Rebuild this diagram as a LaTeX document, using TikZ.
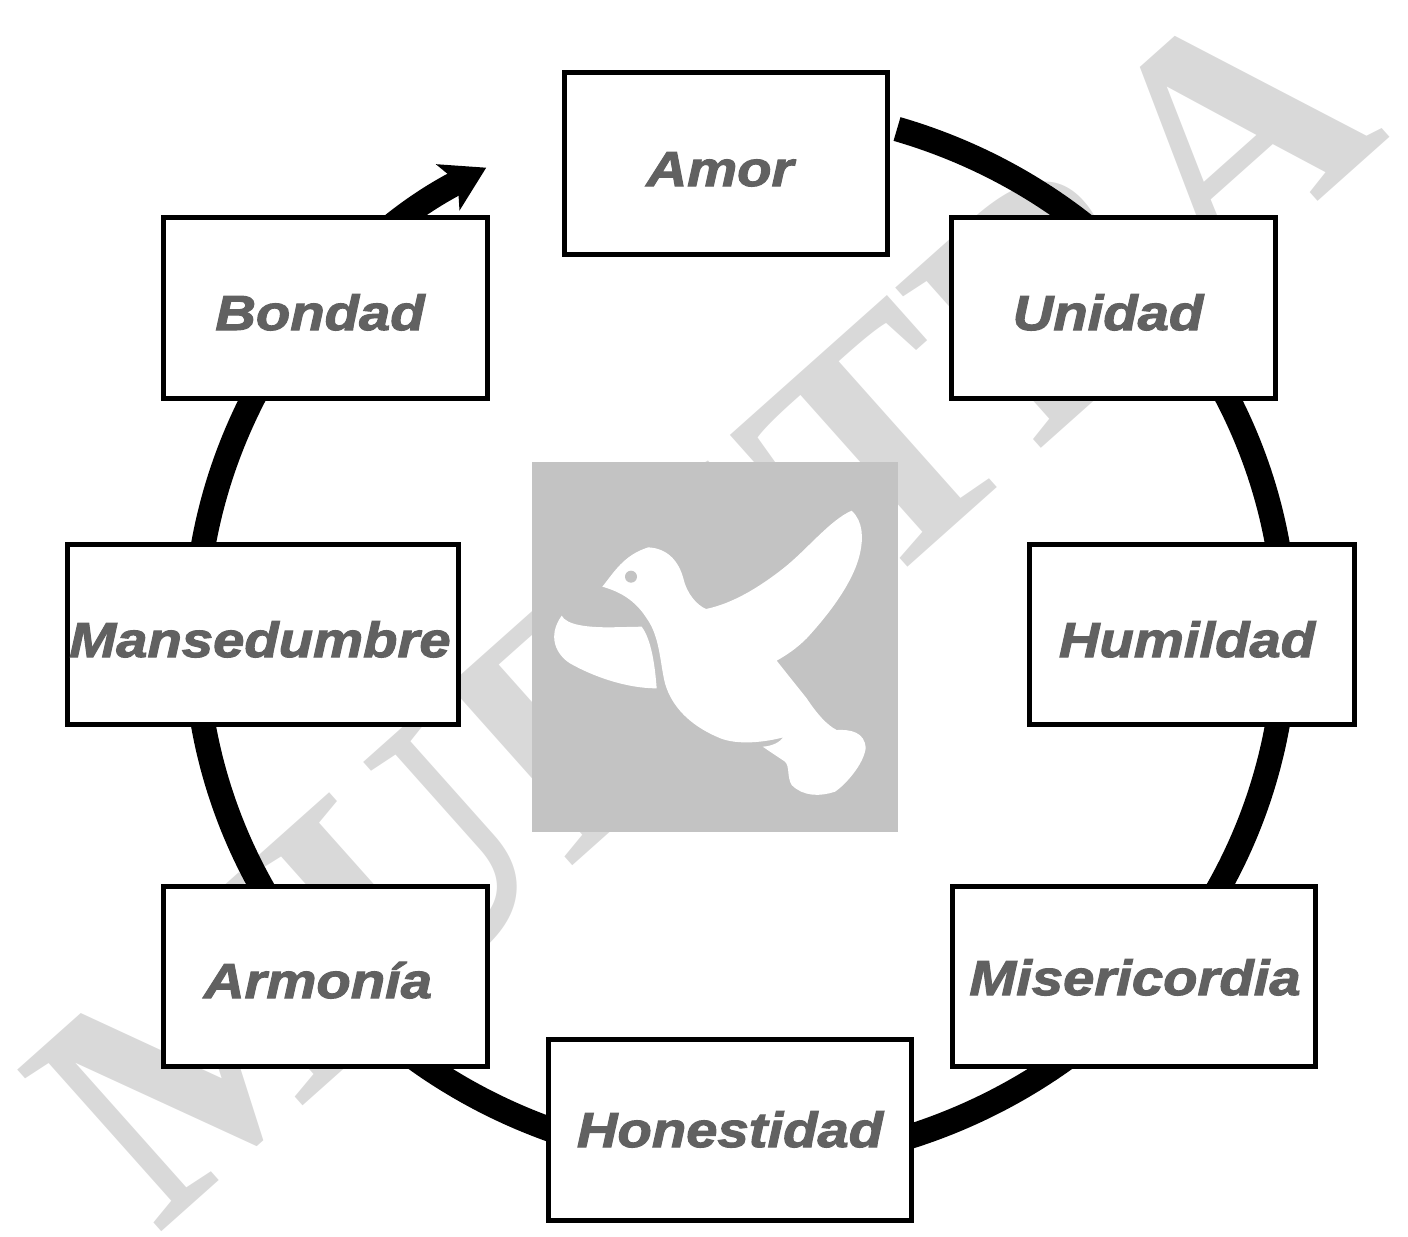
\documentclass[tikz,border=0pt]{standalone}
\usepackage{fontspec}
\usetikzlibrary{arrows.meta}
\setmainfont{Liberation Sans}
\newfontfamily\labfont[ItalicFeatures={FakeBold=2.2,FakeStretch=1.14},BoldItalicFeatures={FakeBold=2.2,FakeStretch=1.14}]{Liberation Sans}
\newfontfamily\wmfont{Liberation Serif}
\definecolor{wmgray}{HTML}{D9D9D9}
\definecolor{sqgray}{HTML}{C3C3C3}
\definecolor{txtgray}{HTML}{616161}
\tikzset{
  box/.style={draw=black,fill=white,line width=3.75pt,inner sep=0pt,rectangle},
  lab/.style={anchor=base,text=txtgray,inner sep=0pt,font=\labfont\fontsize{37}{37}\selectfont\bfseries\itshape},
  ring/.style={draw=black,line width=18.5pt,-{Stealth[length=32pt,width=38pt,inset=8pt]}},
  dovepart/.style={fill=white,draw=none}
}
\begin{document}
\begin{tikzpicture}[x=0.75pt,y=-0.75pt]
\useasboundingbox (0,0) rectangle (1408,1236);
\node[anchor=base west,rotate=41.7,text=wmgray,inner sep=0pt,font=\wmfont\fontsize{248}{248}\selectfont\bfseries] (wm) at (157,1236) {MUESTRA};
\node[fill=sqgray,minimum width=274.5pt,minimum height=277.5pt,inner sep=0pt,outer sep=0pt] (sq) at (715,647) {};
\begin{scope}[shift={(520,450)},x=0.25pt,y=-0.25pt]
\path[dovepart] (247,410) .. controls (280,370) and (310,315) .. (385,292)
 .. controls (440,295) and (475,330) .. (490,385)
 .. controls (500,430) and (530,465) .. (558,477)
 .. controls (640,460) and (720,410) .. (790,355)
 .. controls (860,300) and (930,210) .. (995,182)
 .. controls (1030,215) and (1030,265) .. (1020,310)
 .. controls (1000,400) and (920,500) .. (860,565)
 .. controls (830,595) and (800,615) .. (770,632)
 .. controls (800,670) and (840,720) .. (860,745)
 .. controls (890,790) and (920,825) .. (950,840)
 .. controls (990,838) and (1035,845) .. (1037,895)
 .. controls (1030,945) and (975,1005) .. (945,1025)
 .. controls (900,1040) and (850,1040) .. (815,1005)
 .. controls (800,980) and (810,950) .. (795,935)
 -- (728,890)
 .. controls (760,888) and (780,875) .. (790,862)
 .. controls (720,880) and (640,885) .. (590,860)
 .. controls (510,825) and (455,770) .. (435,700)
 .. controls (420,640) and (420,560) .. (380,505)
 .. controls (345,450) and (300,425) .. (247,410) -- cycle;
\path[dovepart] (125,497) .. controls (140,525) and (200,532) .. (270,532)
 -- (365,530)
 .. controls (395,570) and (405,650) .. (410,715)
 .. controls (320,715) and (220,680) .. (150,640)
 .. controls (110,615) and (80,560) .. (125,497) -- cycle;
\fill[sqgray] (333,380) circle[radius=4.5pt];
\end{scope}
\coordinate (ringstart) at (897,129);
\draw[ring] (ringstart) arc[start angle=73.3,end angle=-242.2,x radius=408.75pt,y radius=396pt];
\node[box,minimum width=242.25pt,minimum height=136.5pt] (amor) at (725.5,163.5) {};
\node[box,minimum width=243pt,minimum height=135.75pt] (bondad) at (325.5,308) {};
\node[box,minimum width=243pt,minimum height=135.75pt] (unidad) at (1113.5,308) {};
\node[box,minimum width=243.75pt,minimum height=135pt] (humildad) at (1192,634.5) {};
\node[box,minimum width=293.25pt,minimum height=135pt] (mansed) at (262.5,634.5) {};
\node[box,minimum width=272.25pt,minimum height=135pt] (miseri) at (1133.5,976.5) {};
\node[box,minimum width=243pt,minimum height=135pt] (armonia) at (325.5,976.5) {};
\node[box,minimum width=272.25pt,minimum height=135.75pt] (honest) at (729.5,1130) {};
\node[lab] (tamor) at (720,186) {Amor};
\node[lab] (tbondad) at (320,330) {Bondad};
\node[lab] (tunidad) at (1108,330) {Unidad};
\node[lab] (thumildad) at (1187,657) {Humildad};
\node[lab] (tmansed) at (260,657) {Mansedumbre};
\node[lab] (tmiseri) at (1135,995) {Misericordia};
\node[lab] (tarmonia) at (318,998) {Armonía};
\node[lab] (thonest) at (730,1147) {Honestidad};
\end{tikzpicture}
\end{document}
